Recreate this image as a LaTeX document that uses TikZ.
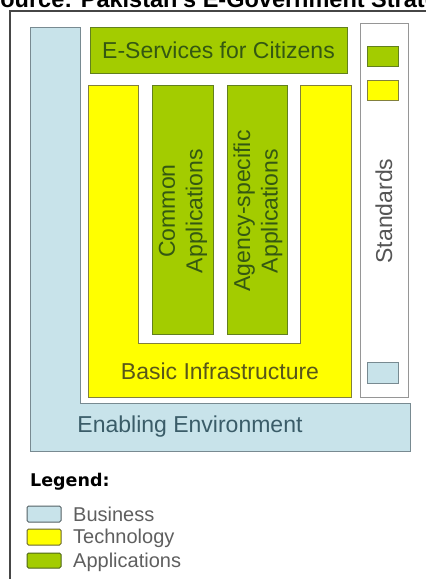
\documentclass[tikz,border=0pt]{standalone}
\usepackage{fontspec}
\setmainfont{Liberation Sans}
\newfontfamily\legendfont{DejaVu Sans}
\definecolor{bizblue}{RGB}{200,227,234}
\definecolor{bizedge}{RGB}{120,138,145}
\definecolor{biztext}{RGB}{58,92,104}
\definecolor{techyellow}{RGB}{255,255,0}
\definecolor{techedge}{RGB}{130,128,60}
\definecolor{techtext}{RGB}{88,86,26}
\definecolor{appgreen}{RGB}{163,204,0}
\definecolor{appedge}{RGB}{98,128,30}
\definecolor{apptext}{RGB}{52,88,18}
\definecolor{stdedge}{RGB}{150,150,150}
\definecolor{stdtext}{RGB}{85,85,85}
\definecolor{framegray}{RGB}{70,70,70}
\definecolor{legtext}{RGB}{95,95,95}
\begin{document}
\begin{tikzpicture}[x=1pt,y=-1pt,
  bizarea/.style={fill=bizblue,draw=bizedge,line width=0.9pt},
  techarea/.style={fill=techyellow,draw=techedge,line width=0.9pt},
  apparea/.style={fill=appgreen,draw=appedge,line width=0.9pt},
  stdarea/.style={fill=white,draw=stdedge,line width=0.9pt},
  bigtext/.style={font=\fontsize{23}{27.5}\selectfont,inner sep=0pt},
  legtextstyle/.style={font=\fontsize{20}{24}\selectfont,inner sep=0pt,text=legtext,anchor=base west},
  legbox/.style={line width=1pt,rounded corners=1.5pt}]
\clip (0,0) rectangle (426,579);
\fill[white] (0,0) rectangle (426,579);

% heading, cut off by the page edge
\node[anchor=base west,inner sep=0pt,font=\bfseries\fontsize{23.5}{28}\selectfont] (heading) at (-15.5,7) {Source: Pakistan's E-Government Strategy};

% outer frame
\draw[framegray,line width=1.2pt] (10,579) -- (10,11) -- (426,11);

% business layer: L-shaped enabling environment
\draw[bizarea] (30,27) -- (30,451) -- (410,451) -- (410,403) -- (80,403) -- (80,27) -- cycle;
\node[bigtext,text=biztext] (enabling) at (190,427) {Enabling Environment};

% technology layer: U-shaped basic infrastructure
\draw[techarea] (88,85) -- (88,397) -- (351,397) -- (351,85) -- (300,85) -- (300,343) -- (138,343) -- (138,85) -- cycle;
\node[bigtext,text=techtext] (infra) at (220,371) {Basic Infrastructure};

% applications layer
\draw[apparea] (90,27) rectangle (347,73);
\node[bigtext,text=apptext] (eserv) at (218.5,50) {E-Services for Citizens};

\draw[apparea] (152,85) rectangle (213,334);
\node[bigtext,text=apptext,rotate=90,align=center] (common) at (183,211) {Common\\Applications};

\draw[apparea] (227,85) rectangle (287,334);
\node[bigtext,text=apptext,rotate=90,align=center] (agency) at (258,211) {Agency-specific\\Applications};

% standards column
\draw[stdarea] (360,23) rectangle (408,397);
\draw[apparea] (367,46) rectangle (398,66);
\draw[techarea] (367,80) rectangle (398,100);
\draw[bizarea] (367,362) rectangle (398,383);
\node[bigtext,text=stdtext,rotate=90] (standards) at (384,211) {Standards};

% legend
\node[anchor=base west,inner sep=0pt,font=\legendfont\bfseries\fontsize{17.5}{21}\selectfont,text=black] (legend) at (30,486) {Legend:};
\draw[legbox,fill=bizblue,draw=bizedge!70!black] (27,506) rectangle (61,522);
\node[legtextstyle] (lbiz) at (73,521) {Business};
\draw[legbox,fill=techyellow,draw=techedge!80!black] (27,529) rectangle (61,545);
\node[legtextstyle] (ltech) at (73,543) {Technology};
\draw[legbox,fill=appgreen,draw=appedge!80!black] (27,553) rectangle (61,568);
\node[legtextstyle] (lapp) at (73,567) {Applications};
\end{tikzpicture}
\end{document}
